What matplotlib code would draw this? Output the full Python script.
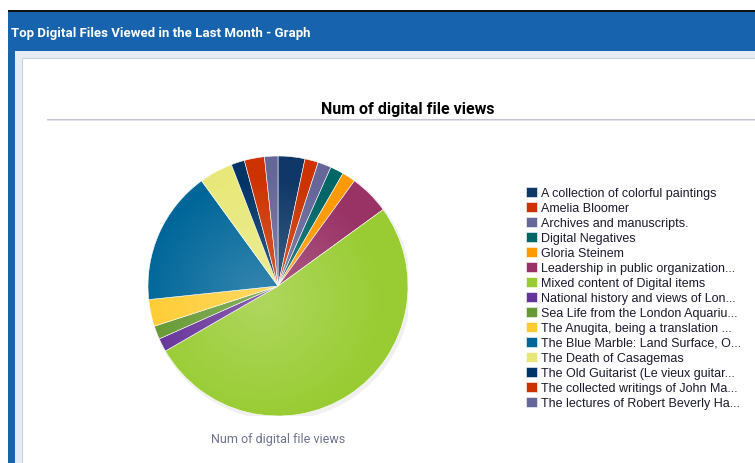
import matplotlib.pyplot as plt
import numpy as np
from matplotlib.patches import Rectangle, Circle

# slice values (views), clockwise from 12 o'clock
labels = [
    'A collection of colorful paintings',
    'Amelia Bloomer',
    'Archives and manuscripts.',
    'Digital Negatives',
    'Gloria Steinem',
    'Leadership in public organization...',
    'Mixed content of Digital items',
    'National history and views of Lon...',
    'Sea Life from the London Aquariu...',
    'The Anugita, being a translation ...',
    'The Blue Marble: Land Surface, O...',
    'The Death of Casagemas',
    'The Old Guitarist (Le vieux guitar...',
    'The collected writings of John Ma...',
    'The lectures of Robert Beverly Ha...',
]
views = [4, 2, 2, 2, 2, 6, 62, 2, 2, 4, 20, 5, 2, 3, 2]
colors = ['#0f3868', '#cc3300', '#666699', '#006666', '#ff9900',
          '#993366', '#99cc33', '#663399', '#669933', '#ffcc33',
          '#006699', '#e8e87a', '#003366', '#cc3300', '#666699']

W, H = 755, 464
fig = plt.figure(figsize=(W / 100, H / 100), dpi=100)
fig.patch.set_facecolor('white')


def px(x, y, w, h):
    # pixel box (top-left origin) -> figure fraction
    return (x / W, 1 - (y + h) / H, w / W, h / H)


def rect(x, y, w, h, color, z=-5):
    l, b, ww, hh = px(x, y, w, h)
    fig.patches.append(Rectangle((l, b), ww, hh, transform=fig.transFigure,
                                 facecolor=color, edgecolor='none', zorder=z))


# window frame
rect(8, 11, W - 8, 2, '#111111')
rect(8, 13, W - 8, H - 13, '#1763ad')
rect(15, 52, W - 15, H - 52, '#e6ecf4')
rect(22, 59, W - 22, H - 59, '#c9d2de')
rect(23, 60, W - 23, H - 60, 'white')

fig.text(11 / W, 1 - 33 / H, 'Top Digital Files Viewed in the Last Month - Graph',
         color='white', fontsize=9.5, fontweight='bold',
         family=['Roboto', 'DejaVu Sans'], va='center', ha='left')

# chart title and rule
fig.text(408 / W, 1 - 110 / H, 'Num of digital file views', color='black',
         fontsize=11.5, fontweight='bold', family=['Roboto', 'DejaVu Sans'],
         ha='center', va='center')
rect(47, 120, W - 47, 1, '#c4c4d4', z=-1)
rect(47, 121, W - 47, 1, '#e2e2ec', z=-1)

# pie
cx, cy, r = 278, 287, 130
ax = fig.add_axes(px(cx - r, cy - r, 2 * r, 2 * r))
ax.set_zorder(5)
ax.patch.set_visible(False)

shadow = Circle((0.015, -0.02), 1.01, facecolor='#000000', alpha=0.06,
                edgecolor='none', zorder=0)
ax.add_patch(shadow)
wedges, _ = ax.pie(views, colors=colors, startangle=90, counterclock=False,
                   radius=1.0, center=(0, 0), frame=False,
                   wedgeprops=dict(edgecolor='white', linewidth=0.4))
for w in wedges:
    w.set_zorder(2)

# soft radial highlight
n = 300
g = np.linspace(-1, 1, n)
xx, yy = np.meshgrid(g, g)
d = np.sqrt((xx + 0.12) ** 2 + (yy + 0.1) ** 2)
alpha = np.clip(0.22 * (1 - d / 0.95), 0, None)
rgba = np.ones((n, n, 4))
rgba[..., 3] = alpha
im = ax.imshow(rgba, extent=(-1, 1, -1, 1), origin='lower', zorder=3,
               interpolation='bilinear')
im.set_clip_path(Circle((0, 0), 1.0, transform=ax.transData))
ax.set_xlim(-1.0, 1.0)
ax.set_ylim(-1.0, 1.0)
ax.set_aspect('equal')
ax.axis('off')

fig.text(cx / W, 1 - 440 / H, 'Num of digital file views', color='#6d7290',
         fontsize=9, family=['Roboto', 'DejaVu Sans'],
         ha='center', va='center')

# legend
fig.legend(wedges, labels, loc='upper left', bbox_to_anchor=(526 / W, 1 - 187.5 / H),
           frameon=False, handlelength=0.9, handleheight=0.9,
           handletextpad=0.3, labelspacing=0.2, borderpad=0, borderaxespad=0,
           prop={'family': 'Liberation Sans', 'size': 9}, labelcolor='#1a1a2e')

fig.savefig('out.png', dpi=100)
